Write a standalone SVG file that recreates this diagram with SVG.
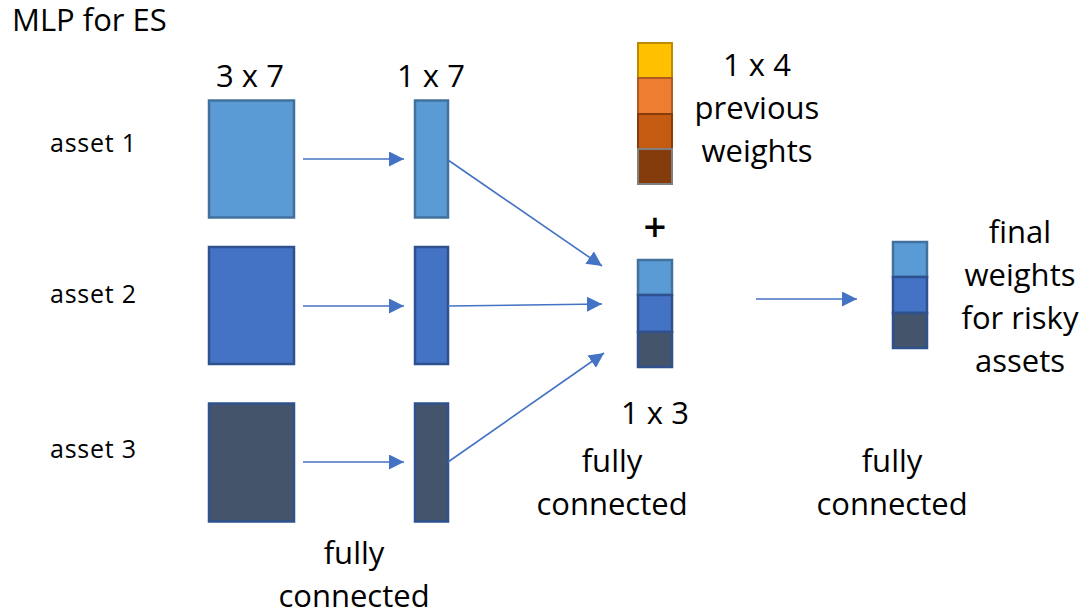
<svg xmlns="http://www.w3.org/2000/svg" width="1083" height="614" viewBox="0 0 1083 614">
<style>
text{font-family:"Open Sans","Liberation Sans",sans-serif;fill:#000}
.big{font-size:31px;text-anchor:middle}
.lbl{font-size:25px}
.a1{fill:#5B9BD5;stroke:#41719C;stroke-width:2.5}
.a2{fill:#4472C4;stroke:#2F528F;stroke-width:2.5}
.a3{fill:#44546A;stroke:#2F528F;stroke-width:2.5}
.con{stroke:#4472C4;stroke-width:1.6;fill:none;marker-end:url(#ah)}
</style>
<defs>
<marker id="ah" markerUnits="userSpaceOnUse" markerWidth="16" markerHeight="16" refX="15" refY="7.5" orient="auto">
<path d="M0,0 L15,7.5 L0,15 Z" fill="#4472C4"/>
</marker>
</defs>
<rect width="1083" height="614" fill="#fff"/>
<text x="12" y="31" style="font-size:31px">MLP for ES</text>
<g id="asset1">
<text class="lbl" x="50" y="152" textLength="86">asset 1</text>
<text class="big" x="250" y="87">3 x 7</text>
<rect class="a1" x="209" y="100.5" width="85" height="117"/>
<text class="big" x="431" y="87">1 x 7</text>
<rect class="a1" x="415" y="100.5" width="33" height="117"/>
</g>
<g id="asset2">
<text class="lbl" x="50" y="303" textLength="86">asset 2</text>
<rect class="a2" x="209" y="247" width="85" height="117"/>
<rect class="a2" x="415" y="247" width="33" height="117"/>
</g>
<g id="asset3">
<text class="lbl" x="50" y="458" textLength="86">asset 3</text>
<rect class="a3" x="209" y="403.5" width="85" height="118"/>
<rect class="a3" x="415" y="403.5" width="33" height="118"/>
</g>
<g id="previous-weights">
<rect x="638" y="43" width="34" height="35" fill="#FFC000" stroke="#BC8C00" stroke-width="2"/>
<rect x="638" y="78" width="34" height="36" fill="#ED7D31" stroke="#AE5A21" stroke-width="2"/>
<rect x="638" y="114" width="34" height="35" fill="#C55A11" stroke="#843C0C" stroke-width="2"/>
<rect x="638" y="149" width="34" height="35" fill="#843C0C" stroke="#7F7F7F" stroke-width="2"/>
<text class="big" x="757" y="76">1 x 4</text>
<text class="big" x="757" y="119">previous</text>
<text class="big" x="757" y="162">weights</text>
</g>
<text x="655" y="241" style="font-size:40px;text-anchor:middle;font-weight:600">+</text>
<g id="hidden">
<rect class="a1" x="638" y="260" width="34" height="35"/>
<rect class="a2" x="638" y="295" width="34" height="37"/>
<rect class="a3" x="638" y="332" width="34" height="35"/>
<text class="big" x="655" y="424">1 x 3</text>
<text class="big" x="612" y="472">fully</text>
<text class="big" x="612" y="515">connected</text>
</g>
<g id="final">
<rect class="a1" x="893" y="242" width="34" height="35"/>
<rect class="a2" x="893" y="277" width="34" height="36"/>
<rect class="a3" x="893" y="313" width="34" height="35"/>
<text class="big" x="1020" y="243">final</text>
<text class="big" x="1020" y="286">weights</text>
<text class="big" x="1020" y="329">for risky</text>
<text class="big" x="1020" y="372">assets</text>
<text class="big" x="892" y="472">fully</text>
<text class="big" x="892" y="515">connected</text>
</g>
<text class="big" x="354" y="564">fully</text>
<text class="big" x="354" y="607">connected</text>
<g id="connectors">
<line class="con" x1="303" y1="159" x2="404" y2="159"/>
<line class="con" x1="303" y1="306" x2="404" y2="306"/>
<line class="con" x1="303" y1="462" x2="404" y2="462"/>
<line class="con" x1="448" y1="160" x2="602" y2="266"/>
<line class="con" x1="448" y1="306" x2="602" y2="304"/>
<line class="con" x1="448" y1="462" x2="604" y2="353"/>
<line class="con" x1="756" y1="299" x2="857" y2="299"/>
</g>
</svg>
